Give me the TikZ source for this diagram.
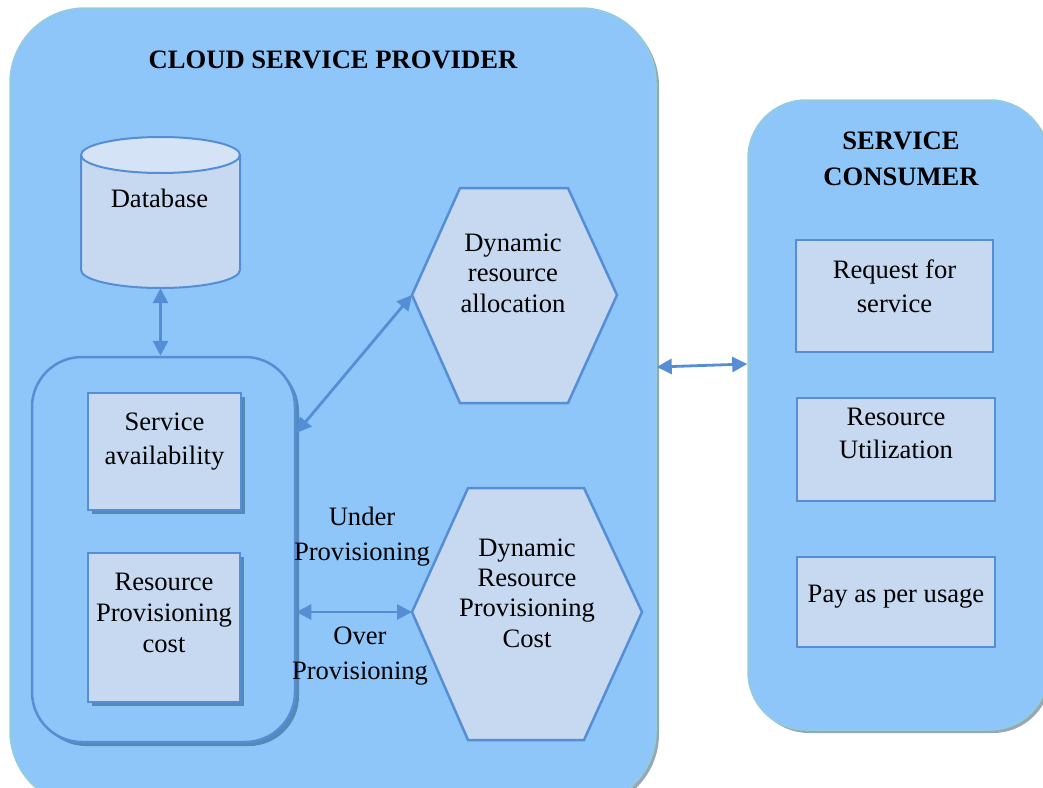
\documentclass[tikz,border=0pt]{standalone}
\usepackage{fontspec}
\setmainfont{Liberation Serif}
\usetikzlibrary{arrows.meta,shadows}
\definecolor{bigfill}{RGB}{142,198,250}
\definecolor{bigedge}{RGB}{146,205,218}
\definecolor{bigshadow}{RGB}{150,168,182}
\definecolor{boxfill}{RGB}{198,217,240}
\definecolor{boxedge}{RGB}{85,142,213}
\definecolor{boxshadow}{RGB}{84,138,184}
\definecolor{dbtop}{RGB}{212,227,245}
\begin{document}
\begin{tikzpicture}[x=1pt,y=-1pt,
  txt/.style={font=\fontsize{26.6}{30.5}\selectfont, align=center, inner sep=0pt},
  ttl/.style={font=\fontsize{26.6}{36}\selectfont\bfseries, align=center, inner sep=0pt},
  arr/.style={draw=boxedge, line width=2.8pt, {Triangle[length=15pt,width=15pt]}-{Triangle[length=15pt,width=15pt]}},
  bigbox/.style={draw=bigedge, fill=bigfill, line width=1.5pt, inner sep=0pt,
     drop shadow={shadow xshift=3pt, shadow yshift=-3pt, fill=bigshadow, opacity=1}},
  innerbox/.style={draw=boxedge, fill=bigfill, line width=2.5pt, inner sep=0pt, rounded corners=50pt,
     drop shadow={shadow xshift=4pt, shadow yshift=-4pt, fill=boxshadow, opacity=1}},
  sbox/.style={draw=boxedge, fill=boxfill, line width=2.5pt, inner sep=0pt,
     drop shadow={shadow xshift=4pt, shadow yshift=-4pt, fill=boxshadow, opacity=1}},
  rbox/.style={draw=boxedge, fill=boxfill, line width=2.5pt, inner sep=0pt},
  hexa/.style={draw=boxedge, fill=boxfill, line width=2.5pt, line join=miter},
]
\useasboundingbox (0,0) rectangle (1043,787);
\clip (0,0) rectangle (1043,787);
% containers
\node[bigbox, rounded corners=75pt, minimum width=646pt, minimum height=798pt] (csp) at (333,407) {};
\node[bigbox, rounded corners=58pt, minimum width=300pt, minimum height=630pt] (sc) at (898,415) {};
\node[ttl] (csptitle) at (333,60) {CLOUD SERVICE PROVIDER};
\node[ttl] (sctitle) at (901,159) {SERVICE\\CONSUMER};
% database
\node[minimum width=159pt, minimum height=151pt, inner sep=0pt] (db) at (160.5,212.5) {};
\fill[boxfill] (81,155) -- (81,270) arc[start angle=180, end angle=360, x radius=79.5pt, y radius=18pt] -- (240,155) -- cycle;
\draw[boxedge, line width=2pt] (81,155) -- (81,270) arc[start angle=180, end angle=360, x radius=79.5pt, y radius=18pt] -- (240,155);
\draw[boxedge, line width=2pt, fill=dbtop] (160.5,155) ellipse[x radius=79.5pt, y radius=18pt];
\node[txt] (dbtext) at (159.5,198) {Database};
% inner box
\node[innerbox, minimum width=263pt, minimum height=385pt] (inner) at (163.5,549.5) {};
\node[sbox, minimum width=153pt, minimum height=117pt] (sa) at (164.5,451.5) {};
\node[txt, font=\fontsize{26.6}{34.5}\selectfont] (satext) at (164.5,441.5) {Service\\availability};
\node[sbox, minimum width=152pt, minimum height=149pt] (rpc) at (164,627.5) {};
\node[txt, font=\fontsize{26.6}{31}\selectfont] (rpctext) at (164,613) {Resource\\Provisioning\\cost};
% hexagons
\draw[hexa] (460,188) -- (568,188) -- (617,295) -- (568,403) -- (460,403) -- (412,295) -- cycle;
\coordinate (hex1w) at (412,295);
\node[txt] (hex1) at (513,273) {Dynamic\\resource\\allocation};
\draw[hexa] (468,488) -- (584,488) -- (642,612) -- (584,740) -- (468,740) -- (412,612) -- cycle;
\coordinate (hex2w) at (412,612);
\node[txt, font=\fontsize{26.6}{30.3}\selectfont] (hex2) at (527,593) {Dynamic\\Resource\\Provisioning\\Cost};
% labels
\node[txt, font=\fontsize{26.6}{35}\selectfont] (under) at (362,536.5) {Under\\Provisioning};
\node[txt, font=\fontsize{26.6}{35}\selectfont] (over) at (360,656) {Over\\Provisioning};
% consumer boxes
\node[rbox, minimum width=197pt, minimum height=112pt] (req) at (894.5,296) {};
\node[txt, font=\fontsize{26.6}{34}\selectfont] (reqtext) at (894.5,286) {Request for\\service};
\node[rbox, minimum width=198pt, minimum height=103pt] (ru) at (896,449.5) {};
\node[txt, font=\fontsize{26.6}{33}\selectfont] (rutext) at (896,433) {Resource\\Utilization};
\node[rbox, minimum width=198pt, minimum height=90pt] (pay) at (896,602) {};
\node[txt] (paytext) at (896,597) {Pay as per usage};
% connectors
\coordinate (ya) at (0,433);
\coordinate (yb) at (0,612);
\coordinate (yc) at (0,367);
\coordinate (yd) at (0,364);
\draw[arr] (db.south) -- (db.south |- inner.north);
\draw[arr] (inner.east |- ya) -- (hex1w);
\draw[arr] (inner.east |- yb) -- (hex2w);
\draw[arr] (csp.east |- yc) -- (sc.west |- yd);
\end{tikzpicture}
\end{document}
